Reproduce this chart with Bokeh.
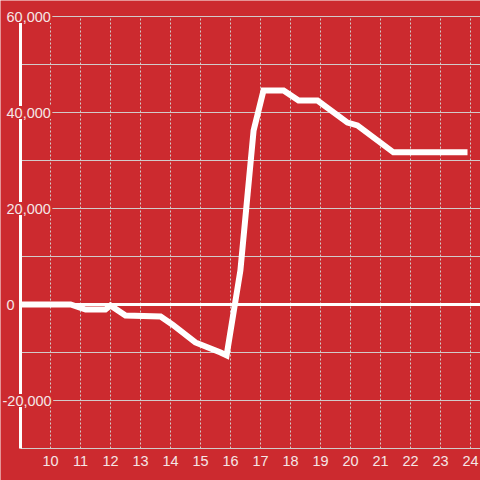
from bokeh.plotting import figure
from bokeh.models import LabelSet, ColumnDataSource, Range1d
from bokeh.core.properties import value
from bokeh.embed import file_html
from bokeh.resources import INLINE

# ---- data ----
hours = [9.0, 10.67, 11.17, 11.83, 12.0, 12.5, 13.67, 14.07, 14.83, 15.67, 15.87,
         16.33, 16.77, 17.1, 17.77, 18.27, 18.9, 19.9, 20.23, 21.43, 23.9]
values = [0, 0, -1040, -1040, -200, -2300, -2500, -4200, -7900, -10000, -10600,
          7100, 36250, 44600, 44600, 42500, 42500, 37900, 37300, 31700, 31700]
x_ticks = list(range(10, 25))
x_labels = [str(t) for t in x_ticks]
y_grid_ticks = list(range(-30000, 60001, 10000))
y_label_ticks = [60000, 40000, 20000, 0, -20000]
y_labels = ["60,000", "40,000", "20,000", "0", "-20,000"]

BG = "#CC2A2F"
GRID = "#D2CACA"
TEXT = "#F5E6E6"
FONT = value("Liberation Sans")

# axis extents (frame drawn over the whole canvas)
X0, X1 = 9.0, 9 + 460 / 30          # plot area from px 20 to 480
Y0, Y1 = -30000, 60000              # plot area from px 448 to 16
PX_PER_X = 30
PX_PER_Y = 432 / (Y1 - Y0)

p = figure(width=480, height=480, output_backend="svg", toolbar_location=None,
           x_range=Range1d(X0 - 20 / PX_PER_X, X1),
           y_range=Range1d(Y0 - 32 / PX_PER_Y, Y1 + 16 / PX_PER_Y),
           x_axis_location=None, y_axis_location=None,
           min_border=0)
p.background_fill_color = BG
p.border_fill_color = BG
p.outline_line_color = None
p.xgrid.visible = False
p.ygrid.visible = False

# grid lines
p.segment(x0=[X0] * len(y_grid_ticks), y0=y_grid_ticks, x1=[X1] * len(y_grid_ticks),
          y1=y_grid_ticks, line_color=GRID, line_width=1)
p.segment(x0=x_ticks, y0=[Y0] * len(x_ticks), x1=x_ticks, y1=[Y1] * len(x_ticks),
          line_color=GRID, line_width=1, line_dash="2 2")

# left axis line and zero baseline
p.segment(x0=[X0], y0=[Y0], x1=[X0], y1=[Y1], line_color="white", line_width=3)
p.segment(x0=[X0], y0=[0], x1=[X1], y1=[0], line_color="white", line_width=3)

# data line
p.line(hours, values, line_color="white", line_width=6, line_join="miter")

# y labels with background sitting over the axis
offsets = [-18 if s.startswith("-") else -14 for s in y_labels]
ysrc = ColumnDataSource(dict(x=[X0] * len(y_labels), y=y_label_ticks, t=y_labels, dx=offsets))
p.add_layout(LabelSet(x="x", y="y", text="t", source=ysrc, x_offset="dx",
                      text_align="left", text_baseline="middle",
                      text_color=TEXT, text_font=FONT, text_font_size="14.5px",
                      background_fill_color=BG, border_line_color=BG,
                      border_line_width=3))

# x labels
xsrc = ColumnDataSource(dict(x=x_ticks, y=[Y0] * len(x_ticks), t=x_labels))
p.add_layout(LabelSet(x="x", y="y", text="t", source=xsrc, y_offset=-12.5,
                      text_align="center", text_baseline="middle",
                      text_color=TEXT, text_font=FONT, text_font_size="14.5px"))

html = file_html(p, INLINE).replace("<body>", '<body style="margin:0;background:%s">' % BG, 1)
open("out.html", "w").write(html)
